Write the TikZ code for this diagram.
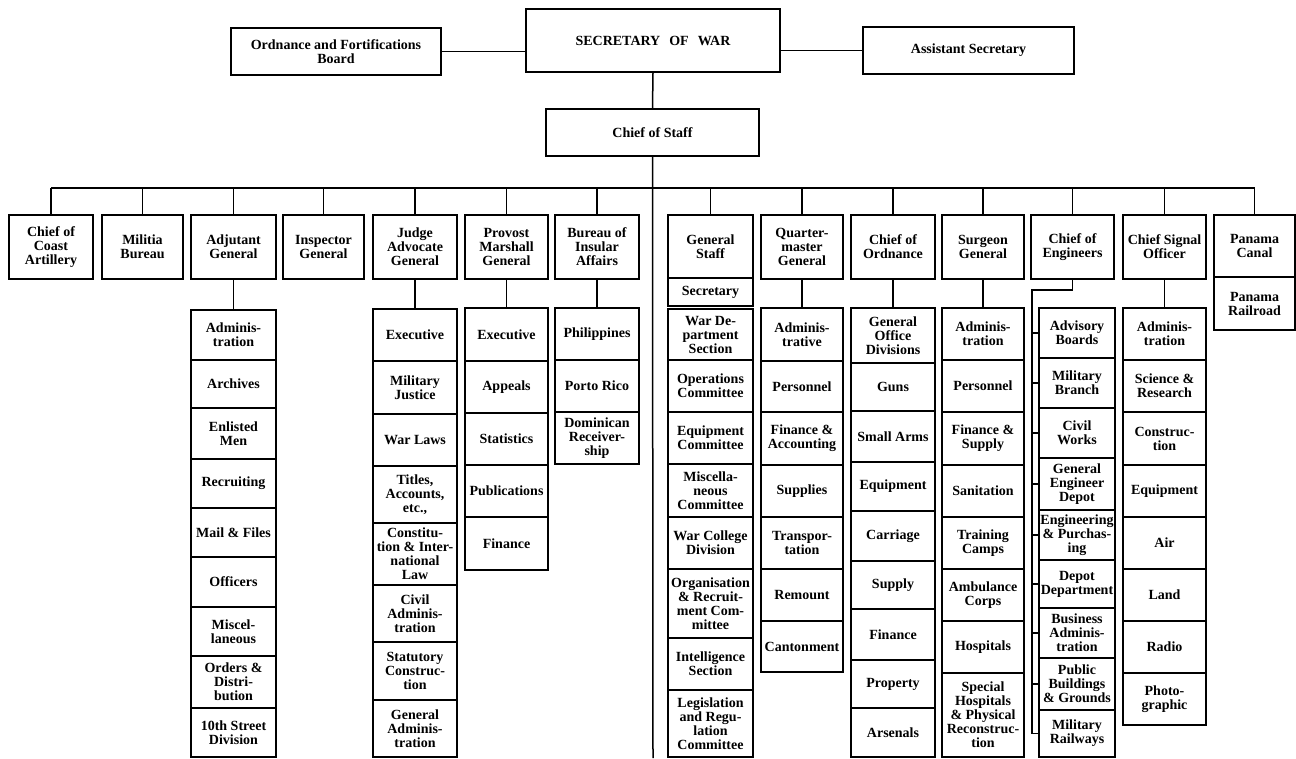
\documentclass[tikz,border=0pt]{standalone}
\usepackage{fontspec}
\setmainfont{Liberation Serif}
\usepackage{tikz}
\tikzset{
    unit/.style={draw, line width=1.5pt, align=center, inner sep=1pt,
        font=\bfseries\fontsize{14}{14}\selectfont},
    link/.style={line width=1.5pt}
}
% box from (x1,y1) to (x2,y2), y counted downwards
\newcommand{\cell}[6]{%
    \node[unit, minimum width=#4pt-#2pt, minimum height=#5pt-#3pt] (#1) at ({(#2+#4)/2},{(#3+#5)/2}) {#6};}

\begin{document}
\begin{tikzpicture}[x=1pt,y=-1pt]
    \useasboundingbox (0,0) rectangle (1296,758);
%   top of the chart
    \cell{sow}{526}{9}{780}{72}{SECRETARY\hspace{9pt}OF\hspace{9pt}WAR}
    \cell{ofb}{231}{28}{441}{75}{Ordnance and Fortifications\\Board}
    \cell{asst}{863}{27}{1074}{74}{Assistant Secretary}
    \cell{cos}{546}{109}{759}{156}{Chief of Staff}
    \draw[link] (ofb.east) -- (ofb.east -| sow.west);
    \draw[link] (asst.west -| sow.east) -- (asst.west);
    \draw[link] (sow.south) -- (cos.north);
    \coordinate (foot) at (653,758);
    \draw[link] (cos.south) -- (foot);
%   bureaus
    \cell{ca}{9}{215}{93}{279}{Chief of\\Coast\\Artillery}
    \cell{mb}{102}{215}{183}{279}{Militia\\Bureau}
    \cell{ag}{191}{215}{276}{279}{Adjutant\\General}
    \cell{ig}{283}{215}{364}{279}{Inspector\\General}
    \cell{ja}{373}{215}{457}{279}{Judge\\Advocate\\General}
    \cell{pm}{465}{215}{548}{279}{Provost\\Marshall\\General}
    \cell{bi}{555}{215}{639}{279}{Bureau of\\Insular\\Affairs}
    \cell{gs}{668}{215}{753}{278}{General\\Staff}
    \cell{qm}{761}{215}{843}{279}{Quarter-\\master\\General}
    \cell{co}{851}{215}{935}{279}{Chief of\\Ordnance}
    \cell{sg}{942}{215}{1024}{279}{Surgeon\\General}
    \cell{ce}{1031}{215}{1114}{279}{Chief of\\Engineers}
    \cell{cso}{1123}{215}{1206}{279}{Chief Signal\\Officer}
    \cell{pc}{1214}{215}{1295}{277}{Panama\\Canal}
    \cell{pr}{1214}{277}{1295}{330}{Panama\\Railroad}
    \coordinate (bar) at (0,188);
    \draw[link] (bar -| ca) -- (bar -| pc);
    \foreach \n in {ca,mb,ag,ig,ja,pm,bi,gs,qm,co,sg,ce,cso,pc}
        \draw[link] (bar -| \n) -- (\n.north);
%   divisions
    \foreach \t/\b/\txt [count=\i] in {310/360/Adminis-\\tration, 360/408/Archives,
        408/459/Enlisted\\Men, 459/508/Recruiting, 508/557/Mail \& Files,
        557/607/Officers, 607/656/Miscel-\\laneous, 656/708/Orders \&\\Distri-\\bution,
        708/757/10th Street\\Division}
        \cell{adj\i}{191}{\t}{276}{\b}{\txt};
    \foreach \t/\b/\txt [count=\i] in {309/361/Executive, 361/414/Military\\Justice,
        414/466/War Laws, {466/523/Titles,\\Accounts,\\etc.,},
        523/585/Constitu-\\tion \& Inter-\\national\\Law, 585/642/Civil\\Adminis-\\tration,
        642/700/Statutory\\Construc-\\tion, 700/757/General\\Adminis-\\tration}
        \cell{jag\i}{373}{\t}{457}{\b}{\txt};
    \foreach \t/\b/\txt [count=\i] in {308/361/Executive, 361/413/Appeals,
        413/465/Statistics, 465/517/Publications, 517/570/Finance}
        \cell{pmg\i}{465}{\t}{548}{\b}{\txt};
    \foreach \t/\b/\txt [count=\i] in {308/360/Philippines, 360/412/Porto Rico,
        412/464/Dominican\\Receiver-\\ship}
        \cell{bia\i}{555}{\t}{639}{\b}{\txt};
    \cell{gsec}{668}{278}{753}{306}{Secretary}
    \foreach \t/\b/\txt [count=\i] in {309/360/War De-\\partment\\Section,
        360/412/Operations\\Committee, 412/464/Equipment\\Committee,
        464/517/Miscella-\\neous\\Committee, 517/569/War College\\Division,
        569/638/Organisation\\\& Recruit-\\ment Com-\\mittee, 638/690/Intelligence\\Section,
        690/757/Legislation\\and Regu-\\lation\\Committee}
        \cell{gst\i}{668}{\t}{753}{\b}{\txt};
    \foreach \t/\b/\txt [count=\i] in {308/361/Adminis-\\trative, 361/412/Personnel,
        412/465/Finance \&\\Accounting, 465/517/Supplies, 517/569/Transpor-\\tation,
        569/621/Remount, 621/672/Cantonment}
        \cell{qmg\i}{761}{\t}{843}{\b}{\txt};
    \foreach \t/\b/\txt [count=\i] in {308/363/General\\Office\\Divisions, 363/411/Guns,
        411/462/Small Arms, 462/511/Equipment, 511/561/Carriage, 561/609/Supply,
        609/660/Finance, 660/708/Property, 708/757/Arsenals}
        \cell{ord\i}{851}{\t}{935}{\b}{\txt};
    \foreach \t/\b/\txt [count=\i] in {308/360/Adminis-\\tration, 360/412/Personnel,
        412/465/Finance \&\\Supply, 465/517/Sanitation, 517/569/Training\\Camps,
        569/621/Ambulance\\Corps, 621/673/Hospitals,
        673/757/Special\\Hospitals\\\& Physical\\Reconstruc-\\tion}
        \cell{srg\i}{942}{\t}{1024}{\b}{\txt};
    \foreach \t/\b/\txt [count=\i] in {308/358/Advisory\\Boards, 358/408/Military\\Branch,
        408/458/Civil\\Works, 458/510/General\\Engineer\\Depot,
        510/560/Engineering\\\& Purchas-\\ing, 560/608/Depot\\Department,
        608/658/Business\\Adminis-\\tration, 658/710/Public\\Buildings\\\& Grounds,
        710/757/Military\\Railways}
        \cell{eng\i}{1039}{\t}{1115}{\b}{\txt};
    \foreach \t/\b/\txt [count=\i] in {308/360/Adminis-\\tration, 360/412/Science \&\\Research,
        412/465/Construc-\\tion, 465/517/Equipment, 517/569/Air, 569/621/Land,
        621/673/Radio, 673/725/Photo-\\graphic}
        \cell{sig\i}{1123}{\t}{1206}{\b}{\txt};
%   links down to the divisions
    \draw[link] (ag.south) -- (adj1.north);
    \draw[link] (ja.south) -- (jag1.north);
    \draw[link] (pm.south) -- (pmg1.north);
    \draw[link] (bi.south) -- (bia1.north);
    \draw[link] (qm.south) -- (qmg1.north);
    \draw[link] (co.south) -- (ord1.north);
    \draw[link] (sg.south) -- (srg1.north);
    \draw[link] (cso.south) -- (sig1.north);
    \coordinate (engbus) at (1032,290);
    \draw[link] (ce.south) |- (engbus) -- (engbus |- eng9.west) -- (eng9.west);
    \foreach \k in {1,...,8}
        \draw[link] (engbus |- eng\k.west) -- (eng\k.west);
\end{tikzpicture}
\end{document}
